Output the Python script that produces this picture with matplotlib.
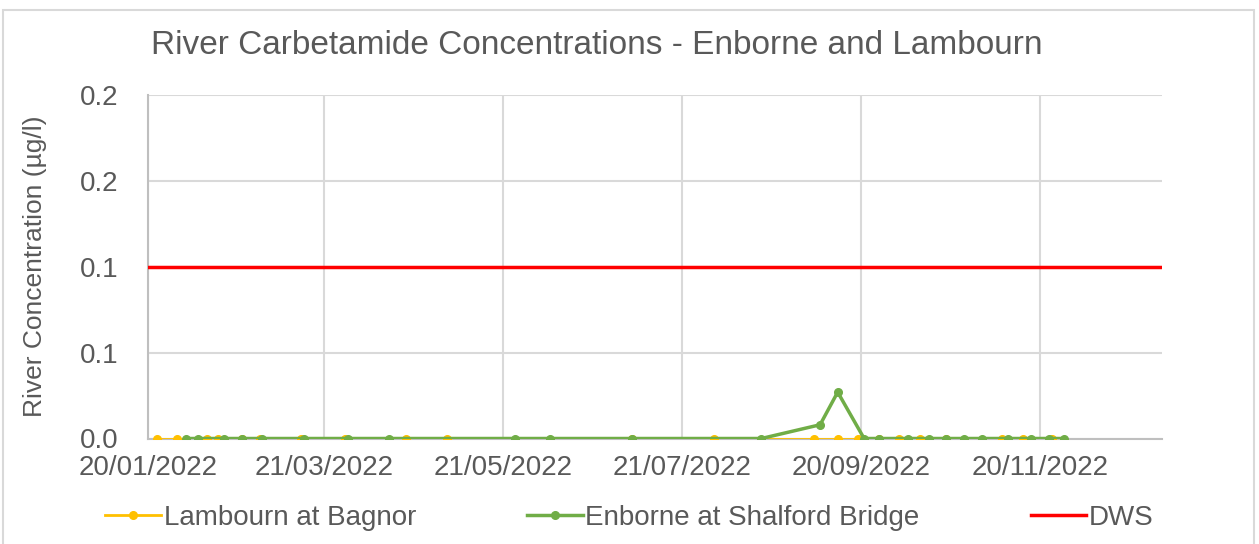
import matplotlib
matplotlib.use('Agg')
import matplotlib.pyplot as plt
import matplotlib.dates as mdates
from matplotlib.patches import Rectangle
from decimal import Decimal, ROUND_HALF_UP
import pandas as pd

plt.rcParams['font.family'] = ['Liberation Sans', 'DejaVu Sans']

# -- data --
lambourn_dates = ['2022-01-23', '2022-01-30', '2022-02-09', '2022-02-13', '2022-02-21',
                  '2022-02-27', '2022-03-13', '2022-03-28', '2022-04-18', '2022-05-02',
                  '2022-07-04', '2022-08-01', '2022-09-04', '2022-09-12', '2022-09-19',
                  '2022-09-26', '2022-10-03', '2022-10-10', '2022-10-19', '2022-11-07',
                  '2022-11-14', '2022-11-24']
lambourn_values = [0.0] * len(lambourn_dates)

enborne_dates = ['2022-02-02', '2022-02-06', '2022-02-15', '2022-02-21', '2022-02-28',
                 '2022-03-14', '2022-03-29', '2022-04-12', '2022-05-25', '2022-06-06',
                 '2022-07-04', '2022-08-17', '2022-09-06', '2022-09-12', '2022-09-21',
                 '2022-09-26', '2022-10-06', '2022-10-13', '2022-10-19', '2022-10-25',
                 '2022-10-31', '2022-11-09', '2022-11-17', '2022-11-23', '2022-11-28']
enborne_values = [0, 0, 0, 0, 0, 0, 0, 0, 0, 0, 0, 0, 0.008, 0.027, 0,
                  0, 0, 0, 0, 0, 0, 0, 0, 0, 0]

dws_value = 0.1

tick_dates = ['2022-01-20', '2022-03-21', '2022-05-21', '2022-07-21', '2022-09-20', '2022-11-20']
y_ticks = [0, 0.05, 0.1, 0.15, 0.2]

grey_text = '#595959'
grid_col = '#D9D9D9'


def one_decimal(v, pos):
    # excel style rounding: 0.05 -> 0.1, 0.15 -> 0.2
    return str(Decimal(str(round(v, 6))).quantize(Decimal('0.1'), rounding=ROUND_HALF_UP))


fig = plt.figure(figsize=(12.59, 5.44), dpi=100)
ax = fig.add_axes([148 / 1259, 1 - 438.5 / 544, (1162 - 148) / 1259, (438.5 - 95) / 544])

# chart area border
fig.patches.append(Rectangle((3 / 1259, -0.1), 1251 / 1259, 1.1 - 10 / 544,
                             transform=fig.transFigure, fill=False,
                             edgecolor='#D9D9D9', linewidth=1.5))

ax.plot(pd.to_datetime(lambourn_dates), lambourn_values, color='#FFC000', lw=2,
        marker='o', ms=5.5, label='Lambourn at Bagnor', zorder=3)
ax.plot(pd.to_datetime(enborne_dates), enborne_values, color='#70AD47', lw=2.5,
        marker='o', ms=5.5, label='Enborne at Shalford Bridge', zorder=4)
ax.axhline(dws_value, color='#FF0000', lw=2.5, label='DWS', zorder=5)

ax.set_xlim(pd.Timestamp('2022-01-20'), pd.Timestamp('2022-12-31 12:00'))
ax.set_ylim(0, 0.2)
ax.set_xticks(pd.to_datetime(tick_dates))
ax.xaxis.set_major_formatter(mdates.DateFormatter('%d/%m/%Y'))
ax.set_yticks(y_ticks)
ax.yaxis.set_major_formatter(plt.FuncFormatter(one_decimal))

ax.grid(True, color=grid_col, lw=1.5, zorder=0)
ax.set_axisbelow(True)
for side in ['top', 'right']:
    ax.spines[side].set_visible(False)
for side in ['left', 'bottom']:
    ax.spines[side].set_color('#BFBFBF')
    ax.spines[side].set_linewidth(1.5)

ax.tick_params(axis='both', length=0, labelsize=20, labelcolor=grey_text)
ax.tick_params(axis='x', pad=12)
ax.tick_params(axis='y', pad=21)

ax.set_ylabel('River Concentration (µg/l)', fontsize=19, color=grey_text, labelpad=24)
fig.text(597 / 1259, 1 - 46 / 544, 'River Carbetamide Concentrations - Enborne and Lambourn',
         ha='center', va='center', fontsize=24, color=grey_text)

fig.legend(loc='center', bbox_to_anchor=(0.5, 1 - 518 / 544), ncol=3, frameon=False,
           fontsize=20, labelcolor=grey_text, handlelength=2, handletextpad=0.1,
           columnspacing=4, borderpad=0)

plt.savefig('out.png', dpi=100)
